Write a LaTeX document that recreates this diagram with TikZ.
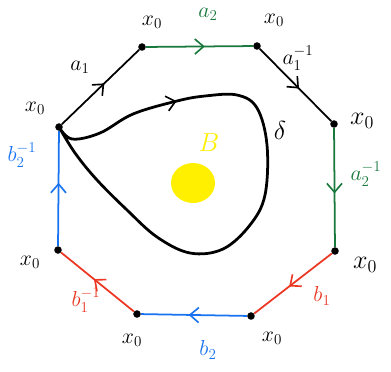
\documentclass[tikz,border=0pt]{standalone}
\usepackage{amsmath,amssymb}
\usetikzlibrary{arrows.meta,decorations.markings,positioning}
\definecolor{edgegreen}{RGB}{25,120,60}
\definecolor{edgered}{RGB}{235,55,35}
\definecolor{edgeblue}{RGB}{25,115,240}
\definecolor{blobyellow}{RGB}{255,240,0}

\tikzset{
  vtx/.style={circle,fill=black,inner sep=0pt,minimum size=6pt},
  lbl/.style={font=\LARGE},
  edge/.style={line width=1.4pt},
  midarrow/.style={postaction={decorate},
    decoration={markings,mark=at position #1 with {\arrow{Straight Barb[length=7pt,width=12pt,line width=1.3pt]}}}},
  midarrow/.default=0.55,
}

\begin{document}
\begin{tikzpicture}[x=0.028cm,y=-0.028cm]
    \useasboundingbox (0,0) rectangle (391,371);
    % vertices of the octagon
    \node[vtx] (v1) at (59,127) {};
    \node[vtx] (v2) at (142,47) {};
    \node[vtx] (v3) at (257,46) {};
    \node[vtx] (v4) at (334,124) {};
    \node[vtx] (v5) at (335,251) {};
    \node[vtx] (v6) at (251,316) {};
    \node[vtx] (v7) at (137,314) {};
    \node[vtx] (v8) at (58,250) {};
    % edges
    \draw[edge,midarrow] (v1) -- (v2);
    \draw[edge,edgegreen,midarrow] (v2) -- (v3);
    \draw[edge,midarrow] (v3) -- (v4);
    \draw[edge,edgegreen,midarrow] (v4) -- (v5);
    \draw[edge,edgered,midarrow] (v5) -- (v6);
    \draw[edge,edgeblue,midarrow] (v6) -- (v7);
    \draw[edge,edgered,midarrow] (v7) -- (v8);
    \draw[edge,edgeblue,midarrow] (v8) -- (v1);
    % base point labels
    \node[lbl] (x1) at (35,108) {$x_0$};
    \node[lbl] (x2) at (152,22) {$x_0$};
    \node[lbl] (x3) at (274,20) {$x_0$};
    \node[font=\huge] (x4) at (362,121) {$x_0$};
    \node[font=\huge] (x5) at (365,265) {$x_0$};
    \node[lbl] (x6) at (272,338) {$x_0$};
    \node[lbl] (x7) at (132,340) {$x_0$};
    \node[lbl] (x8) at (30,262) {$x_0$};
    % edge labels
    \node[lbl] (la1) at (80,67) {$a_1$};
    \node[lbl,text=edgegreen] (la2) at (208,14) {$a_2$};
    \node[lbl] (la1i) at (298,58) {$a_1^{-1}$};
    \node[lbl,text=edgegreen] (la2i) at (366,174) {$a_2^{-1}$};
    \node[lbl,text=edgered] (lb1) at (322,296) {$b_1$};
    \node[lbl,text=edgeblue] (lb2) at (208,350) {$b_2$};
    \node[lbl,text=edgered] (lb1i) at (86,300) {$b_1^{-1}$};
    \node[lbl,text=edgeblue] (lb2i) at (22,155) {$b_2^{-1}$};
    % the loop delta and the ball B
    \fill[blobyellow] (193,183) ellipse [x radius=22, y radius=20];
    \node[font=\huge,text=blobyellow] (lB) at (209,143) {$B$};
    \draw[line width=2.2pt,line join=round,midarrow=0.22] plot[smooth,tension=0.6] coordinates {
      (59,127) (72,139) (100,133) (133,114) (177,101) (205,96) (237,95) (257,108)
      (267,145) (265,195) (250,225) (223,249) (190,253) (157,237) (127,210)
      (97,180) (75,153) (59,127)};
    \node[font=\huge] (ld) at (280,130) {$\delta$};
\end{tikzpicture}
\end{document}
